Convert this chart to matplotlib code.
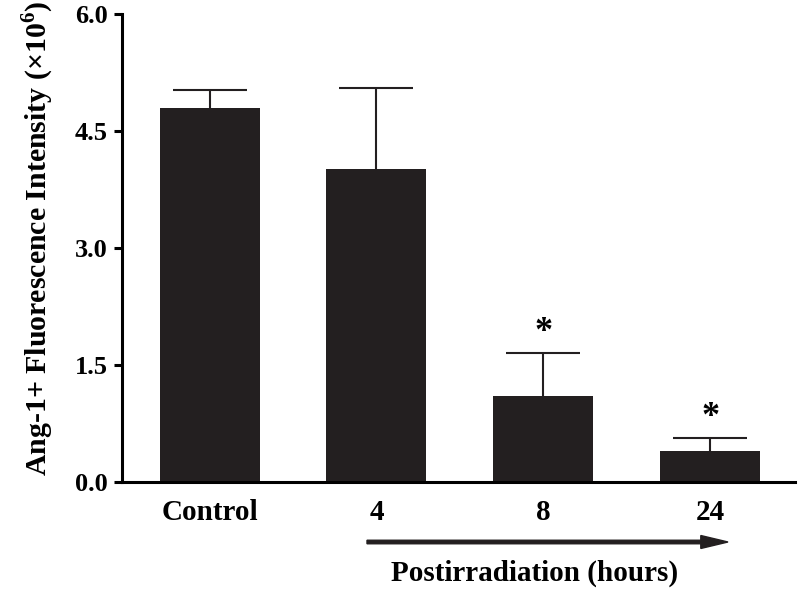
import matplotlib
matplotlib.use("Agg")
import matplotlib.pyplot as plt
import numpy as np

categories = ["Control", "4", "8", "24"]
means = [4.80, 4.01, 1.10, 0.40]
err_upper = [0.23, 1.04, 0.55, 0.16]
significant = [False, False, True, True]
yticks = [0.0, 1.5, 3.0, 4.5, 6.0]

plt.rcParams['font.family'] = ['Liberation Serif', 'DejaVu Serif']
plt.rcParams['font.weight'] = 'bold'
plt.rcParams['mathtext.fontset'] = 'custom'
plt.rcParams['mathtext.rm'] = 'Liberation Serif:bold'
plt.rcParams['mathtext.bf'] = 'Liberation Serif:bold'

fig = plt.figure(figsize=(8, 5.89), dpi=100)
ax = fig.add_axes([0.1525, 0.1817, 0.994 - 0.1525, 0.976 - 0.1817])

x = np.arange(len(categories))
tops = np.array(means) + np.array(err_upper)
col = '#231f20'
ax.vlines(x, means, tops, color=col, linewidth=1.5, zorder=1)
ax.hlines(tops, x - 0.222, x + 0.222, color=col, linewidth=1.5, zorder=1)
ax.bar(x, means, width=0.6, color=col, zorder=2)

for xi, t, s in zip(x, tops, significant):
    if s:
        ax.text(xi, t + 0.05, "*", ha='center', va='bottom', fontsize=26,
                fontweight='bold')

ax.set_xlim(-0.525, 3.51)
ax.set_ylim(0, 6.0)
ax.set_yticks(yticks)
ax.set_yticklabels([f"{v:.1f}" for v in yticks], fontsize=19, fontweight='bold')
ax.set_xticks(x)
ax.set_xticklabels(categories, fontsize=21, fontweight='bold')
ax.tick_params(axis='x', length=0, pad=12)
ax.tick_params(axis='y', length=6, width=2.2, direction='out', pad=4)
for sp in ['top', 'right']:
    ax.spines[sp].set_visible(False)
ax.spines['left'].set_linewidth(2.2)
ax.spines['bottom'].set_linewidth(2.2)

fig.text(38 / 800, 1 - 238 / 589,
         r"Ang-1+ Fluorescence Intensity ($\times$10$^{6}$)", fontsize=21.5,
         fontweight='bold', rotation=90, ha='center', va='center')

# arrow below axis
fig.patches.append(matplotlib.patches.FancyArrow(
    367 / 800, 1 - 542 / 589, (728 - 367) / 800, 0, width=0.006,
    head_width=0.022, head_length=0.034, length_includes_head=True,
    color=col, transform=fig.transFigure, figure=fig))
fig.text(535 / 800, 1 - 573 / 589, "Postirradiation (hours)", ha='center',
         va='center', fontsize=21, fontweight='bold')

fig.savefig("out.png", dpi=100)
